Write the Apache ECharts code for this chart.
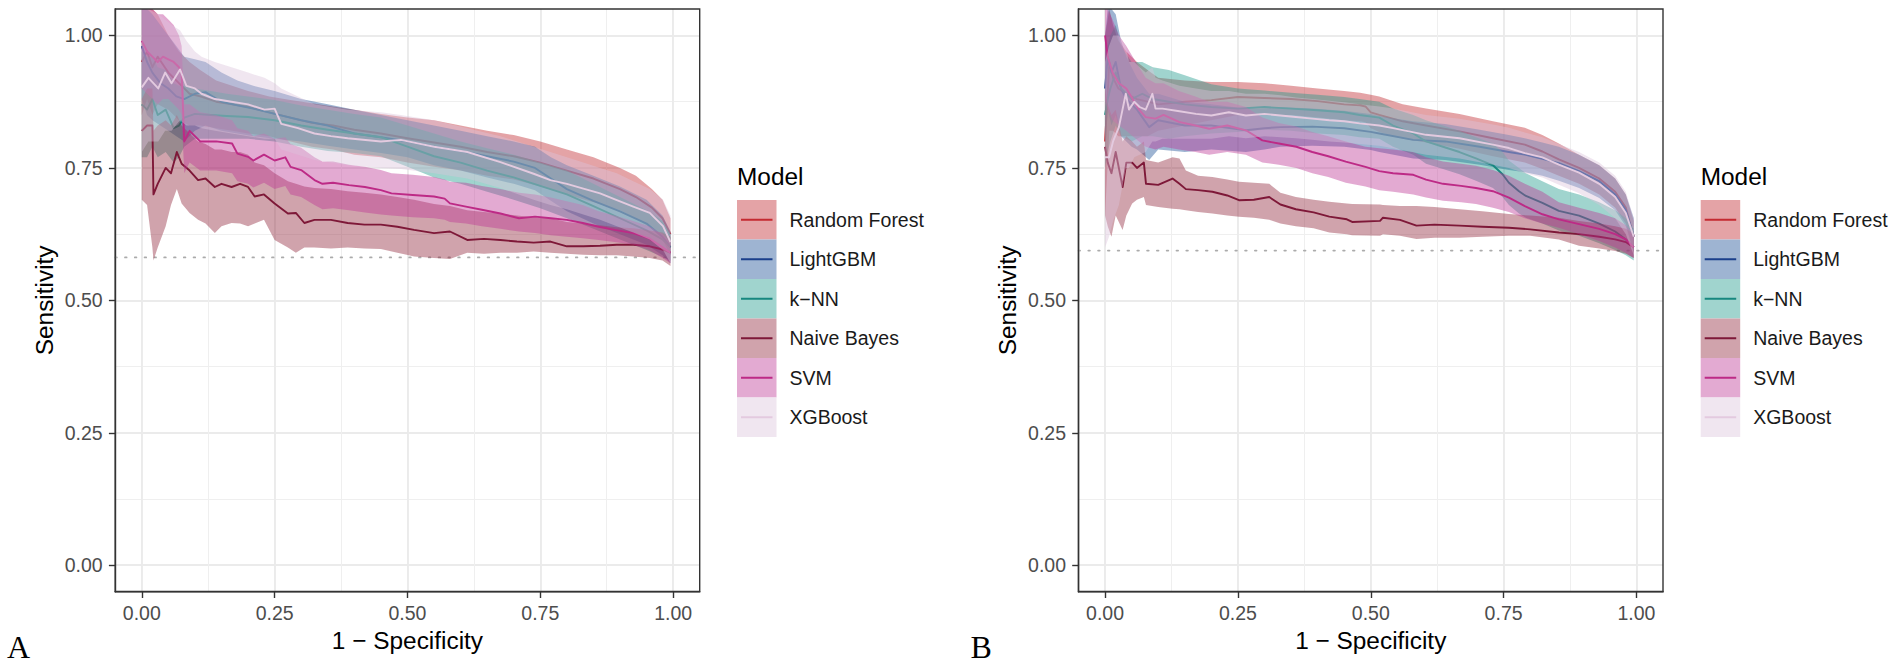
<!DOCTYPE html>
<html>
<head>
<meta charset="utf-8">
<script src="https://cdn.jsdelivr.net/npm/echarts@6.0.0/dist/echarts.min.js"></script>
<style>
html,body{margin:0;padding:0;background:#ffffff;}
#chart{width:1902px;height:666px;}
</style>
</head>
<body>
<div id="chart"></div>
<script>
// ---------------- categories / ticks ----------------
const MODELS = ['Random Forest', 'LightGBM', 'k\u2212NN', 'Naive Bayes', 'SVM', 'XGBoost'];
const TICK_VALUES = [0, 0.25, 0.5, 0.75, 1];
const TICK_LABELS = ['0.00', '0.25', '0.50', '0.75', '1.00'];
const MINOR_VALUES = [0.125, 0.375, 0.625, 0.875];
const PANEL_LABELS = ['A', 'B'];
const PREVALENCE_A = 0.581;
const PREVALENCE_B = 0.594;

// ---------------- panel A ----------------
const A_RF_x  = [0, 0.01, 0.02, 0.03, 0.05, 0.07, 0.09, 0.11, 0.14, 0.17, 0.2, 0.24, 0.28, 0.32, 0.36, 0.4, 0.45, 0.5, 0.55, 0.6, 0.65, 0.7, 0.75, 0.8, 0.85, 0.9, 0.93, 0.96, 0.98, 0.995];
const A_RF_y  = [0.95, 0.97, 0.94, 0.96, 0.93, 0.91, 0.89, 0.885, 0.875, 0.87, 0.865, 0.855, 0.845, 0.835, 0.83, 0.822, 0.815, 0.806, 0.798, 0.79, 0.78, 0.772, 0.76, 0.745, 0.73, 0.71, 0.695, 0.675, 0.655, 0.625];
const A_RF_hi = [1.05, 1.05, 1.05, 1.04, 1.0, 0.97, 0.95, 0.935, 0.915, 0.905, 0.895, 0.885, 0.878, 0.872, 0.866, 0.86, 0.852, 0.845, 0.84, 0.83, 0.82, 0.812, 0.8, 0.785, 0.77, 0.75, 0.735, 0.71, 0.69, 0.655];
const A_RF_lo = [0.85, 0.88, 0.85, 0.87, 0.86, 0.84, 0.83, 0.83, 0.825, 0.82, 0.815, 0.81, 0.8, 0.79, 0.785, 0.775, 0.77, 0.76, 0.752, 0.745, 0.735, 0.728, 0.715, 0.7, 0.685, 0.67, 0.655, 0.635, 0.615, 0.585];

const A_LGBM_x  = [0, 0.01, 0.02, 0.035, 0.05, 0.065, 0.08, 0.1, 0.12, 0.15, 0.18, 0.21, 0.25, 0.3, 0.35, 0.4, 0.45, 0.5, 0.55, 0.6, 0.65, 0.7, 0.74, 0.77, 0.8, 0.85, 0.9, 0.95, 0.98, 0.995];
const A_LGBM_y  = [0.98, 0.95, 0.93, 0.91, 0.9, 0.885, 0.88, 0.89, 0.893, 0.875, 0.868, 0.862, 0.852, 0.84, 0.83, 0.815, 0.808, 0.8, 0.79, 0.782, 0.772, 0.762, 0.75, 0.73, 0.71, 0.688, 0.668, 0.645, 0.62, 0.6];
const A_LGBM_hi = [1.05, 1.05, 1.04, 1.02, 1.0, 0.98, 0.96, 0.955, 0.95, 0.93, 0.915, 0.905, 0.895, 0.88, 0.87, 0.86, 0.85, 0.84, 0.83, 0.82, 0.81, 0.8, 0.79, 0.77, 0.755, 0.735, 0.715, 0.69, 0.66, 0.63];
const A_LGBM_lo = [0.88, 0.85, 0.84, 0.83, 0.82, 0.81, 0.8, 0.82, 0.83, 0.82, 0.815, 0.81, 0.805, 0.8, 0.792, 0.785, 0.778, 0.77, 0.755, 0.745, 0.732, 0.72, 0.708, 0.688, 0.668, 0.645, 0.625, 0.605, 0.585, 0.57];

const A_KNN_x  = [0, 0.01, 0.02, 0.03, 0.045, 0.06, 0.07, 0.08, 0.1, 0.13, 0.16, 0.2, 0.25, 0.3, 0.35, 0.4, 0.45, 0.5, 0.55, 0.6, 0.65, 0.7, 0.75, 0.8, 0.85, 0.9, 0.95, 0.98, 0.995];
const A_KNN_y  = [0.87, 0.86, 0.88, 0.85, 0.86, 0.825, 0.83, 0.845, 0.852, 0.85, 0.848, 0.846, 0.84, 0.83, 0.822, 0.815, 0.808, 0.79, 0.772, 0.76, 0.745, 0.732, 0.716, 0.7, 0.678, 0.655, 0.632, 0.615, 0.6];
const A_KNN_hi = [0.97, 0.96, 0.96, 0.94, 0.935, 0.91, 0.905, 0.905, 0.9, 0.895, 0.89, 0.885, 0.878, 0.868, 0.86, 0.852, 0.845, 0.83, 0.815, 0.8, 0.787, 0.775, 0.76, 0.745, 0.72, 0.695, 0.67, 0.65, 0.625];
const A_KNN_lo = [0.77, 0.77, 0.79, 0.77, 0.78, 0.76, 0.77, 0.79, 0.805, 0.805, 0.805, 0.805, 0.8, 0.79, 0.782, 0.778, 0.772, 0.752, 0.732, 0.72, 0.705, 0.69, 0.674, 0.655, 0.635, 0.615, 0.595, 0.582, 0.575];

const A_NB_x  = [0, 0.01, 0.02, 0.022, 0.03, 0.045, 0.055, 0.066, 0.075, 0.09, 0.106, 0.12, 0.1375, 0.15, 0.169, 0.185, 0.2, 0.2125, 0.23, 0.25, 0.275, 0.29, 0.306, 0.325, 0.356, 0.3875, 0.419, 0.45, 0.481, 0.5125, 0.55, 0.58, 0.6125, 0.644, 0.675, 0.706, 0.7375, 0.769, 0.8, 0.831, 0.8625, 0.894, 0.925, 0.956, 0.98, 0.995];
const A_NB_y  = [0.82, 0.83, 0.83, 0.70, 0.72, 0.75, 0.74, 0.78, 0.758, 0.745, 0.727, 0.73, 0.714, 0.72, 0.714, 0.72, 0.714, 0.696, 0.70, 0.683, 0.664, 0.665, 0.646, 0.652, 0.652, 0.646, 0.643, 0.643, 0.639, 0.633, 0.627, 0.63, 0.614, 0.616, 0.614, 0.611, 0.609, 0.611, 0.602, 0.602, 0.603, 0.605, 0.605, 0.602, 0.596, 0.59];
const A_NB_hi = [0.88, 0.9, 0.9, 0.82, 0.83, 0.84, 0.83, 0.85, 0.83, 0.815, 0.8, 0.795, 0.785, 0.785, 0.78, 0.78, 0.775, 0.76, 0.755, 0.74, 0.725, 0.72, 0.715, 0.712, 0.71, 0.706, 0.703, 0.7, 0.695, 0.69, 0.682, 0.678, 0.67, 0.667, 0.664, 0.66, 0.657, 0.655, 0.648, 0.645, 0.642, 0.638, 0.636, 0.632, 0.628, 0.62];
const A_NB_lo = [0.69, 0.68, 0.6, 0.575, 0.6, 0.64, 0.68, 0.71, 0.683, 0.665, 0.652, 0.645, 0.627, 0.64, 0.646, 0.645, 0.64, 0.645, 0.652, 0.614, 0.6, 0.59, 0.6, 0.6, 0.598, 0.6, 0.598, 0.597, 0.59, 0.583, 0.58, 0.578, 0.59, 0.588, 0.59, 0.59, 0.592, 0.59, 0.588, 0.586, 0.585, 0.585, 0.583, 0.58, 0.575, 0.565];

const A_SVM_x  = [0, 0.01, 0.02, 0.03, 0.04, 0.05, 0.06, 0.07, 0.075, 0.08, 0.09, 0.11, 0.14, 0.17, 0.18, 0.2, 0.21, 0.23, 0.25, 0.27, 0.28, 0.3, 0.325, 0.34, 0.36, 0.39, 0.42, 0.45, 0.47, 0.51, 0.55, 0.57, 0.58, 0.61, 0.64, 0.675, 0.71, 0.74, 0.77, 0.8, 0.83, 0.86, 0.89, 0.925, 0.955, 0.98, 0.995];
const A_SVM_y  = [0.99, 0.97, 0.96, 0.95, 0.96, 0.955, 0.95, 0.94, 0.93, 0.80, 0.82, 0.80, 0.80, 0.796, 0.777, 0.771, 0.764, 0.775, 0.764, 0.77, 0.752, 0.746, 0.727, 0.72, 0.722, 0.7175, 0.714, 0.708, 0.702, 0.699, 0.696, 0.692, 0.683, 0.677, 0.671, 0.664, 0.655, 0.658, 0.655, 0.652, 0.646, 0.639, 0.633, 0.627, 0.617, 0.60, 0.59];
const A_SVM_hi = [1.05, 1.05, 1.05, 1.04, 1.04, 1.03, 1.02, 1.0, 0.98, 0.87, 0.87, 0.855, 0.85, 0.84, 0.825, 0.82, 0.81, 0.815, 0.805, 0.808, 0.795, 0.788, 0.77, 0.762, 0.762, 0.756, 0.752, 0.746, 0.74, 0.737, 0.733, 0.728, 0.724, 0.722, 0.716, 0.71, 0.703, 0.7, 0.694, 0.687, 0.68, 0.668, 0.66, 0.65, 0.64, 0.625, 0.61];
const A_SVM_lo = [0.9, 0.89, 0.88, 0.87, 0.88, 0.88, 0.87, 0.86, 0.85, 0.74, 0.76, 0.745, 0.745, 0.74, 0.725, 0.72, 0.713, 0.722, 0.71, 0.716, 0.7, 0.695, 0.68, 0.672, 0.674, 0.67, 0.666, 0.662, 0.66, 0.657, 0.655, 0.652, 0.648, 0.645, 0.64, 0.635, 0.63, 0.627, 0.623, 0.62, 0.617, 0.614, 0.61, 0.605, 0.595, 0.58, 0.57];

const A_XGB_x  = [0, 0.0125, 0.031, 0.044, 0.056, 0.072, 0.084, 0.1, 0.1125, 0.1375, 0.169, 0.2, 0.231, 0.25, 0.2625, 0.294, 0.325, 0.356, 0.3875, 0.45, 0.4875, 0.55, 0.6125, 0.675, 0.7375, 0.769, 0.8, 0.831, 0.8625, 0.894, 0.925, 0.956, 0.981, 0.995];
const A_XGB_y  = [0.902, 0.92, 0.9, 0.93, 0.91, 0.936, 0.905, 0.9, 0.89, 0.88, 0.875, 0.87, 0.86, 0.862, 0.833, 0.825, 0.815, 0.81, 0.806, 0.8, 0.803, 0.79, 0.78, 0.761, 0.739, 0.727, 0.72, 0.711, 0.702, 0.689, 0.677, 0.665, 0.64, 0.61];
const A_XGB_hi = [1.05, 1.05, 1.04, 1.03, 1.02, 1.01, 0.99, 0.97, 0.96, 0.95, 0.94, 0.93, 0.92, 0.91, 0.9, 0.885, 0.87, 0.865, 0.86, 0.855, 0.85, 0.84, 0.825, 0.81, 0.79, 0.78, 0.77, 0.76, 0.75, 0.74, 0.725, 0.71, 0.69, 0.66];
const A_XGB_lo = [0.78, 0.8, 0.8, 0.82, 0.82, 0.84, 0.83, 0.83, 0.825, 0.82, 0.815, 0.81, 0.805, 0.805, 0.785, 0.775, 0.765, 0.76, 0.755, 0.75, 0.748, 0.74, 0.73, 0.712, 0.69, 0.68, 0.672, 0.662, 0.652, 0.64, 0.628, 0.615, 0.595, 0.57];

// ---------------- panel B ----------------
const B_RF_x  = [0, 0.008, 0.015, 0.025, 0.04, 0.06, 0.08, 0.1, 0.15, 0.2, 0.25, 0.3, 0.35, 0.4, 0.45, 0.48, 0.49, 0.5, 0.516, 0.56, 0.604, 0.667, 0.73, 0.79, 0.823, 0.854, 0.892, 0.93, 0.96, 0.98, 0.995];
const B_RF_y  = [0.8, 0.95, 0.92, 0.9, 0.89, 0.88, 0.875, 0.87, 0.875, 0.878, 0.884, 0.882, 0.88, 0.876, 0.87, 0.868, 0.866, 0.855, 0.85, 0.838, 0.83, 0.819, 0.806, 0.794, 0.781, 0.766, 0.75, 0.73, 0.705, 0.675, 0.62];
const B_RF_hi = [1.0, 1.05, 1.02, 0.99, 0.97, 0.95, 0.935, 0.92, 0.915, 0.912, 0.912, 0.91, 0.905, 0.9, 0.895, 0.892, 0.89, 0.888, 0.885, 0.87, 0.862, 0.852, 0.838, 0.826, 0.812, 0.796, 0.775, 0.755, 0.73, 0.7, 0.65];
const B_RF_lo = [0.66, 0.82, 0.82, 0.81, 0.81, 0.81, 0.81, 0.82, 0.83, 0.84, 0.85, 0.85, 0.85, 0.845, 0.84, 0.838, 0.836, 0.825, 0.818, 0.805, 0.798, 0.786, 0.772, 0.76, 0.748, 0.735, 0.72, 0.7, 0.675, 0.645, 0.59];

const B_LGBM_x  = [0, 0.005, 0.012, 0.02, 0.03, 0.04, 0.05, 0.06, 0.083, 0.1, 0.15, 0.2, 0.265, 0.3, 0.33, 0.39, 0.45, 0.5, 0.516, 0.58, 0.64, 0.705, 0.76, 0.79, 0.823, 0.854, 0.892, 0.93, 0.96, 0.98, 0.995];
const B_LGBM_y  = [0.9, 0.96, 0.93, 0.95, 0.9, 0.88, 0.87, 0.86, 0.827, 0.84, 0.83, 0.83, 0.821, 0.825, 0.827, 0.828, 0.825, 0.818, 0.815, 0.803, 0.8, 0.79, 0.78, 0.775, 0.767, 0.759, 0.744, 0.725, 0.7, 0.67, 0.62];
const B_LGBM_hi = [1.0, 1.05, 1.05, 1.04, 0.99, 0.96, 0.94, 0.92, 0.89, 0.89, 0.875, 0.87, 0.862, 0.862, 0.865, 0.862, 0.858, 0.852, 0.848, 0.838, 0.833, 0.822, 0.812, 0.806, 0.798, 0.79, 0.775, 0.755, 0.73, 0.7, 0.655];
const B_LGBM_lo = [0.8, 0.86, 0.83, 0.85, 0.81, 0.8, 0.79, 0.785, 0.765, 0.785, 0.78, 0.785, 0.78, 0.785, 0.79, 0.792, 0.79, 0.784, 0.78, 0.768, 0.765, 0.756, 0.746, 0.742, 0.735, 0.726, 0.712, 0.693, 0.67, 0.64, 0.59];

const B_KNN_x  = [0, 0.005, 0.01, 0.02, 0.03, 0.05, 0.07, 0.09, 0.12, 0.15, 0.2, 0.25, 0.3, 0.35, 0.4, 0.45, 0.479, 0.516, 0.542, 0.58, 0.604, 0.636, 0.667, 0.698, 0.73, 0.748, 0.76, 0.779, 0.792, 0.823, 0.854, 0.892, 0.93, 0.96, 0.98, 0.995];
const B_KNN_y  = [0.85, 0.88, 0.9, 0.93, 0.9, 0.88, 0.89, 0.88, 0.875, 0.87, 0.865, 0.862, 0.865, 0.862, 0.859, 0.855, 0.85, 0.845, 0.83, 0.815, 0.8, 0.79, 0.78, 0.768, 0.755, 0.738, 0.722, 0.706, 0.697, 0.684, 0.669, 0.66, 0.645, 0.63, 0.615, 0.6];
const B_KNN_hi = [0.95, 0.98, 1.0, 1.02, 0.98, 0.95, 0.95, 0.94, 0.935, 0.925, 0.908, 0.9, 0.896, 0.892, 0.888, 0.884, 0.88, 0.875, 0.862, 0.85, 0.84, 0.83, 0.82, 0.808, 0.796, 0.78, 0.764, 0.75, 0.74, 0.725, 0.71, 0.7, 0.685, 0.67, 0.655, 0.635];
const B_KNN_lo = [0.75, 0.78, 0.8, 0.83, 0.81, 0.8, 0.81, 0.81, 0.805, 0.81, 0.815, 0.818, 0.822, 0.82, 0.815, 0.812, 0.808, 0.805, 0.79, 0.775, 0.758, 0.748, 0.738, 0.726, 0.712, 0.695, 0.68, 0.664, 0.656, 0.645, 0.632, 0.622, 0.608, 0.595, 0.585, 0.575];

const B_NB_x  = [0, 0.005, 0.012, 0.02, 0.033, 0.04, 0.051, 0.06, 0.073, 0.077, 0.1, 0.127, 0.14, 0.152, 0.175, 0.202, 0.23, 0.252, 0.28, 0.309, 0.33, 0.359, 0.3925, 0.422, 0.455, 0.465, 0.5175, 0.523, 0.555, 0.586, 0.62, 0.667, 0.71, 0.76, 0.8, 0.854, 0.892, 0.93, 0.96, 0.98, 0.995];
const B_NB_y  = [0.79, 0.76, 0.74, 0.78, 0.714, 0.76, 0.76, 0.75, 0.76, 0.72, 0.718, 0.73, 0.72, 0.71, 0.708, 0.705, 0.698, 0.689, 0.69, 0.695, 0.681, 0.672, 0.666, 0.658, 0.653, 0.648, 0.65, 0.656, 0.652, 0.641, 0.643, 0.641, 0.639, 0.637, 0.634, 0.628, 0.625, 0.62, 0.615, 0.61, 0.6];
const B_NB_hi = [0.9, 0.87, 0.85, 0.86, 0.8, 0.81, 0.8, 0.79, 0.8, 0.765, 0.76, 0.77, 0.768, 0.745, 0.735, 0.733, 0.728, 0.724, 0.722, 0.72, 0.703, 0.695, 0.69, 0.686, 0.683, 0.682, 0.681, 0.68, 0.678, 0.678, 0.676, 0.672, 0.668, 0.663, 0.66, 0.656, 0.65, 0.645, 0.64, 0.635, 0.625];
const B_NB_lo = [0.66, 0.64, 0.62, 0.66, 0.633, 0.66, 0.683, 0.69, 0.695, 0.68, 0.676, 0.673, 0.672, 0.67, 0.667, 0.664, 0.66, 0.658, 0.656, 0.652, 0.645, 0.64, 0.636, 0.628, 0.625, 0.623, 0.622, 0.625, 0.622, 0.616, 0.618, 0.618, 0.62, 0.622, 0.622, 0.615, 0.603, 0.598, 0.593, 0.588, 0.58];

const B_SVM_x  = [0, 0.005, 0.014, 0.026, 0.04, 0.052, 0.064, 0.0765, 0.095, 0.11, 0.139, 0.17, 0.196, 0.23, 0.265, 0.296, 0.327, 0.36, 0.39, 0.42, 0.453, 0.49, 0.516, 0.542, 0.58, 0.604, 0.636, 0.67, 0.698, 0.73, 0.76, 0.79, 0.823, 0.854, 0.892, 0.93, 0.96, 0.98, 0.995];
const B_SVM_y  = [1.0, 0.96, 0.93, 0.91, 0.9, 0.88, 0.86, 0.846, 0.843, 0.85, 0.837, 0.83, 0.824, 0.83, 0.821, 0.802, 0.796, 0.79, 0.78, 0.772, 0.762, 0.752, 0.744, 0.74, 0.737, 0.728, 0.72, 0.716, 0.712, 0.706, 0.694, 0.678, 0.6625, 0.653, 0.644, 0.635, 0.625, 0.615, 0.6];
const B_SVM_hi = [1.05, 1.05, 1.03, 1.0, 0.98, 0.96, 0.94, 0.92, 0.91, 0.91, 0.895, 0.885, 0.875, 0.875, 0.865, 0.845, 0.835, 0.828, 0.818, 0.81, 0.8, 0.79, 0.787, 0.785, 0.78, 0.77, 0.762, 0.758, 0.754, 0.746, 0.735, 0.72, 0.705, 0.685, 0.675, 0.665, 0.655, 0.642, 0.625];
const B_SVM_lo = [0.88, 0.86, 0.84, 0.83, 0.82, 0.81, 0.8, 0.79, 0.785, 0.79, 0.785, 0.78, 0.775, 0.78, 0.775, 0.76, 0.756, 0.75, 0.74, 0.733, 0.722, 0.715, 0.708, 0.705, 0.7, 0.694, 0.688, 0.685, 0.682, 0.675, 0.667, 0.655, 0.645, 0.637, 0.625, 0.612, 0.6, 0.59, 0.58];

const B_XGB_x  = [0, 0.0075, 0.015, 0.026, 0.039, 0.045, 0.055, 0.065, 0.0765, 0.089, 0.095, 0.108, 0.14, 0.171, 0.2, 0.233, 0.265, 0.3, 0.33, 0.359, 0.39, 0.422, 0.45, 0.479, 0.516, 0.542, 0.604, 0.667, 0.73, 0.76, 0.79, 0.823, 0.854, 0.892, 0.93, 0.96, 0.98, 0.995];
const B_XGB_y  = [0.77, 0.77, 0.8, 0.827, 0.89, 0.86, 0.875, 0.865, 0.86, 0.89, 0.862, 0.862, 0.857, 0.852, 0.849, 0.855, 0.849, 0.852, 0.849, 0.846, 0.843, 0.84, 0.838, 0.834, 0.83, 0.825, 0.8125, 0.806, 0.794, 0.7875, 0.778, 0.77, 0.756, 0.741, 0.72, 0.695, 0.665, 0.62];
const B_XGB_hi = [0.95, 0.98, 1.0, 1.0, 0.98, 0.95, 0.95, 0.94, 0.93, 0.94, 0.92, 0.915, 0.905, 0.9, 0.895, 0.895, 0.89, 0.89, 0.887, 0.883, 0.88, 0.877, 0.874, 0.87, 0.866, 0.862, 0.85, 0.843, 0.832, 0.826, 0.817, 0.808, 0.795, 0.78, 0.76, 0.735, 0.705, 0.655];
const B_XGB_lo = [0.6, 0.62, 0.65, 0.68, 0.75, 0.75, 0.77, 0.775, 0.78, 0.8, 0.8, 0.805, 0.805, 0.805, 0.805, 0.81, 0.806, 0.81, 0.808, 0.806, 0.803, 0.8, 0.798, 0.795, 0.792, 0.787, 0.775, 0.768, 0.756, 0.75, 0.74, 0.732, 0.718, 0.702, 0.68, 0.655, 0.625, 0.585];

// ---------------- styling ----------------
const LINE_COLORS = ['#C42A31', '#1B3F8B', '#17877F', '#7E1838', '#BD2A86', '#E3CADF'];
const FILL_COLORS = ['#BF242B', '#184C94', '#1D998A', '#8F2439', '#BC3594', '#DBC3DB'];
const KEY_COLORS  = ['#E4A3A6', '#9EB4D2', '#A0D4CE', '#D0A3AC', '#E3AAD2', '#F0E6F0'];
const FILL_ALPHA = 0.42;
const FONT = "'Liberation Sans', Arial, Helvetica, sans-serif";
const SERIF = "'Liberation Serif', 'Times New Roman', serif";

const PANELS = [
  { prevalence: PREVALENCE_A, left: 115.2, legendLeft: 737, labelLeft: 7,
    models: [[A_RF_x, A_RF_y, A_RF_lo, A_RF_hi], [A_LGBM_x, A_LGBM_y, A_LGBM_lo, A_LGBM_hi], [A_KNN_x, A_KNN_y, A_KNN_lo, A_KNN_hi],
             [A_NB_x, A_NB_y, A_NB_lo, A_NB_hi], [A_SVM_x, A_SVM_y, A_SVM_lo, A_SVM_hi], [A_XGB_x, A_XGB_y, A_XGB_lo, A_XGB_hi]] },
  { prevalence: PREVALENCE_B, left: 1078.5, legendLeft: 1700.7, labelLeft: 970.5,
    models: [[B_RF_x, B_RF_y, B_RF_lo, B_RF_hi], [B_LGBM_x, B_LGBM_y, B_LGBM_lo, B_LGBM_hi], [B_KNN_x, B_KNN_y, B_KNN_lo, B_KNN_hi],
             [B_NB_x, B_NB_y, B_NB_lo, B_NB_hi], [B_SVM_x, B_SVM_y, B_SVM_lo, B_SVM_hi], [B_XGB_x, B_XGB_y, B_XGB_lo, B_XGB_hi]] }
];

const GRID_TOP = 9;
const GRID_W = 584.5;
const GRID_H = 582.7;

function tickFormatter(v) {
  const k = TICK_VALUES.indexOf(v);
  return k >= 0 ? TICK_LABELS[k] : '';
}

const grids = [], xAxes = [], yAxes = [], series = [], legends = [], titles = [];
const LINE_ICON = 'path://M0,0h0.01v0.01h-0.01z M39.5,39.5h-0.01v-0.01h0.01z M4,18.75h31.5v2h-31.5z';

PANELS.forEach(function (P, p) {
  grids.push({ left: P.left, top: GRID_TOP, width: GRID_W, height: GRID_H, show: true,
    backgroundColor: 'transparent', borderColor: '#333333', borderWidth: 1.4, z: 30,
    containLabel: false, outerBoundsMode: 'none' });
  const axisLineStyle = { color: '#333333', width: 1.4 };
  xAxes.push({ gridIndex: p, type: 'value', min: -0.05, max: 1.05, position: 'bottom',
    axisLine: { show: true, onZero: false, lineStyle: axisLineStyle },
    axisTick: { show: true, length: 6.3, lineStyle: axisLineStyle, customValues: TICK_VALUES },
    axisLabel: { show: true, customValues: TICK_VALUES, formatter: tickFormatter, fontSize: 19.5, color: '#4D4D4D', margin: 11.5, fontFamily: FONT },
    splitLine: { show: true, lineStyle: { color: '#EBEBEB', width: 1.9 } },
    name: '1 \u2212 Specificity', nameLocation: 'middle', nameGap: 32.5,
    nameTextStyle: { fontSize: 24.4, color: '#000000', fontFamily: FONT } });
  xAxes.push({ gridIndex: p, type: 'value', min: -0.05, max: 1.05, position: 'top',
    axisLine: { show: false }, axisTick: { show: false, customValues: MINOR_VALUES },
    axisLabel: { show: false, customValues: MINOR_VALUES },
    splitLine: { show: true, lineStyle: { color: '#EFEFEF', width: 1 } } });
  yAxes.push({ gridIndex: p, type: 'value', min: -0.05, max: 1.05, position: 'left',
    axisLine: { show: true, onZero: false, lineStyle: axisLineStyle },
    axisTick: { show: true, length: 6.3, lineStyle: axisLineStyle, customValues: TICK_VALUES },
    axisLabel: { show: true, customValues: TICK_VALUES, formatter: tickFormatter, fontSize: 19.5, color: '#4D4D4D', margin: 12.5, fontFamily: FONT },
    splitLine: { show: true, lineStyle: { color: '#EBEBEB', width: 1.9 } },
    name: 'Sensitivity', nameLocation: 'middle', nameGap: 59,
    nameTextStyle: { fontSize: 24.4, color: '#000000', fontFamily: FONT } });
  yAxes.push({ gridIndex: p, type: 'value', min: -0.05, max: 1.05, position: 'right',
    axisLine: { show: false }, axisTick: { show: false, customValues: MINOR_VALUES },
    axisLabel: { show: false, customValues: MINOR_VALUES },
    splitLine: { show: true, lineStyle: { color: '#EFEFEF', width: 1 } } });

  const xi = 2 * p, yi = 2 * p;
  series.push({ type: 'line', name: 'ref' + p, xAxisIndex: xi, yAxisIndex: yi, z: 1, silent: true,
    symbol: 'none', animation: false,
    data: [[-0.05, P.prevalence], [1.05, P.prevalence]],
    lineStyle: { color: '#ABABAB', width: 1.8, type: [1.6, 8.2], cap: 'round' } });

  P.models.forEach(function (m, i) {
    const xs = m[0], ys = m[1], lo = m[2], hi = m[3];
    const fill = FILL_COLORS[i];
    series.push({ type: 'custom', name: MODELS[i], xAxisIndex: xi, yAxisIndex: yi, z: 2 + 2 * i,
      silent: true, animation: false, clip: true,
      data: xs.map(function (x, k) { return [x, lo[k], hi[k]]; }),
      encode: { x: 0, y: [1, 2] },
      itemStyle: { color: fill },
      renderItem: function (params, api) {
        if (params.dataIndex !== 0) return null;
        const pts = [];
        for (let k = 0; k < xs.length; k++) pts.push(api.coord([xs[k], hi[k]]));
        for (let k = xs.length - 1; k >= 0; k--) pts.push(api.coord([xs[k], lo[k]]));
        return { type: 'polygon', shape: { points: pts }, style: { fill: fill, opacity: FILL_ALPHA } };
      } });
    series.push({ type: 'line', name: MODELS[i], xAxisIndex: xi, yAxisIndex: yi, z: 3 + 2 * i,
      silent: true, animation: false, symbol: 'none', showSymbol: false,
      data: xs.map(function (x, k) { return [x, ys[k]]; }),
      lineStyle: { color: LINE_COLORS[i], width: 1.9, join: 'round' },
      itemStyle: { color: LINE_COLORS[i] } });
  });

  legends.push({ show: true, orient: 'vertical', left: P.legendLeft, top: 200, padding: 0,
    itemWidth: 39.5, itemHeight: 39.5, itemGap: 0, selectedMode: false, z: 10,
    itemStyle: { borderWidth: 0 },
    data: MODELS.map(function (name, i) { return { name: name, icon: 'rect', itemStyle: { color: KEY_COLORS[i], borderWidth: 0, opacity: 1 } }; }),
    textStyle: { fontSize: 19.5, color: '#1A1A1A', fontFamily: FONT, padding: [0, 0, 0, 8] } });
  legends.push({ show: true, orient: 'vertical', left: P.legendLeft, top: 200, padding: 0,
    itemWidth: 39.5, itemHeight: 39.5, itemGap: 0, selectedMode: false, z: 11,
    itemStyle: { borderWidth: 0 },
    data: MODELS.map(function (name, i) { return { name: name, icon: LINE_ICON, itemStyle: { color: LINE_COLORS[i], borderWidth: 0, opacity: 1 } }; }),
    formatter: function () { return ''; },
    textStyle: { fontSize: 12, color: 'transparent' } });

  titles.push({ text: 'Model', left: P.legendLeft, top: 164, padding: 0,
    textStyle: { fontSize: 24.4, fontWeight: 'normal', color: '#000000', fontFamily: FONT } });
  titles.push({ text: PANEL_LABELS[p], left: P.labelLeft, top: 631, padding: 0,
    textStyle: { fontSize: 32, fontWeight: 'normal', color: '#000000', fontFamily: SERIF } });
});

const chart = echarts.init(document.getElementById('chart'), null, { renderer: 'svg', width: 1902, height: 666 });
chart.setOption({
  backgroundColor: '#ffffff',
  animation: false,
  textStyle: { fontFamily: FONT },
  title: titles,
  legend: legends,
  grid: grids,
  xAxis: xAxes,
  yAxis: yAxes,
  series: series
});
</script>
</body>
</html>
